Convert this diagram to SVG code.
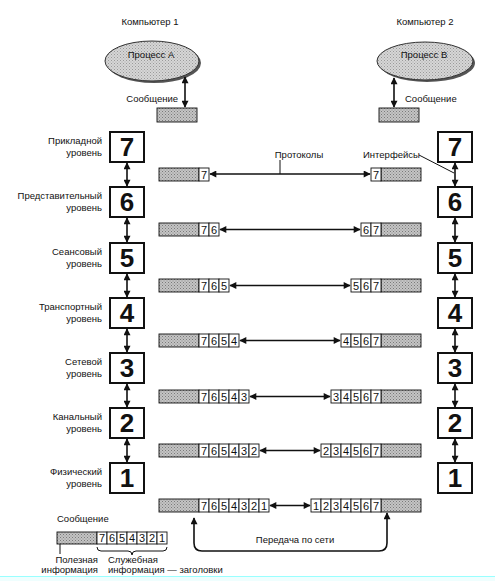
<svg xmlns="http://www.w3.org/2000/svg" width="495" height="581" viewBox="0 0 495 581">
<style>
text{font-family:"Liberation Sans",Arial,sans-serif;fill:#111}
.lbl{font-size:9.5px}
.lr{font-size:9.5px;text-anchor:end}
.num{font-size:26px;font-weight:bold;text-anchor:middle}
.cd{font-size:11px;text-anchor:middle}
.box{fill:#fff;stroke:#111;stroke-width:2}
.cell{fill:#fff;stroke:#111;stroke-width:0.9}
.gray{fill:url(#ht);stroke:#111;stroke-width:0.9}
.ar{stroke:#111;stroke-width:1.6;fill:none;marker-start:url(#ah);marker-end:url(#ah)}
.ln{stroke:#111;stroke-width:1;fill:none}
</style>
<defs>
<pattern id="ht" width="3" height="3" patternUnits="userSpaceOnUse">
<rect width="3" height="3" fill="#c4c4c4"/>
<rect x="0" y="0" width="1" height="1" fill="#7a7a7a"/>
<rect x="1.5" y="1.5" width="1" height="1" fill="#8a8a8a"/>
</pattern>
<pattern id="ht2" width="3" height="3" patternUnits="userSpaceOnUse">
<rect width="3" height="3" fill="#d6d6d6"/>
<rect x="0" y="0" width="1" height="1" fill="#9a9a9a"/>
<rect x="1.5" y="1.5" width="1" height="1" fill="#a8a8a8"/>
</pattern>
<marker id="ah" viewBox="0 0 10 10" refX="9" refY="5" markerWidth="8" markerHeight="7" markerUnits="userSpaceOnUse" orient="auto-start-reverse">
<path d="M0,0 L10,5 L0,10 z" fill="#111"/>
</marker>
</defs>

<g id="computer1">
<text class="lbl" x="150" y="25" text-anchor="middle">Компьютер 1</text>
<ellipse cx="154" cy="63" rx="47" ry="20" fill="#555"/>
<ellipse cx="152" cy="61" rx="47" ry="20" fill="url(#ht2)" stroke="#333" stroke-width="1"/>
<text class="lbl" x="151" y="58" text-anchor="middle">Процесс A</text>
<text class="lr" x="178" y="102">Сообщение</text>
<rect class="gray" x="157" y="108" width="40" height="14"/>
</g>

<g id="computer2">
<text class="lbl" x="425" y="25" text-anchor="middle">Компьютер 2</text>
<ellipse cx="427" cy="63" rx="48" ry="19" fill="#555"/>
<ellipse cx="425" cy="61" rx="48" ry="19" fill="url(#ht2)" stroke="#333" stroke-width="1"/>
<text class="lbl" x="424" y="58" text-anchor="middle">Процесс B</text>
<text class="lbl" x="405" y="102">Сообщение</text>
<rect class="gray" x="379" y="108" width="40" height="14"/>
</g>

<g id="left-layers">
<g id="L7"><text class="lr" x="102" y="144">Прикладной</text><text class="lr" x="102" y="156">уровень</text><rect class="box" x="110" y="132" width="34" height="30"/><text class="num" x="127" y="156">7</text></g>
<g id="L6"><text class="lr" x="102" y="199">Представительный</text><text class="lr" x="102" y="211">уровень</text><rect class="box" x="110" y="187" width="34" height="30"/><text class="num" x="127" y="211">6</text></g>
<g id="L5"><text class="lr" x="102" y="255">Сеансовый</text><text class="lr" x="102" y="267">уровень</text><rect class="box" x="110" y="243" width="34" height="30"/><text class="num" x="127" y="267">5</text></g>
<g id="L4"><text class="lr" x="102" y="310">Транспортный</text><text class="lr" x="102" y="322">уровень</text><rect class="box" x="110" y="298" width="34" height="30"/><text class="num" x="127" y="322">4</text></g>
<g id="L3"><text class="lr" x="102" y="365">Сетевой</text><text class="lr" x="102" y="377">уровень</text><rect class="box" x="110" y="353" width="34" height="30"/><text class="num" x="127" y="377">3</text></g>
<g id="L2"><text class="lr" x="102" y="420">Канальный</text><text class="lr" x="102" y="432">уровень</text><rect class="box" x="110" y="408" width="34" height="30"/><text class="num" x="127" y="432">2</text></g>
<g id="L1"><text class="lr" x="102" y="475">Физический</text><text class="lr" x="102" y="487">уровень</text><rect class="box" x="110" y="463" width="34" height="30"/><text class="num" x="127" y="487">1</text></g>
</g>

<g id="right-layers">
<g id="R7"><rect class="box" x="438" y="132" width="34" height="30"/><text class="num" x="455" y="156">7</text></g>
<g id="R6"><rect class="box" x="438" y="187" width="34" height="30"/><text class="num" x="455" y="211">6</text></g>
<g id="R5"><rect class="box" x="438" y="243" width="34" height="30"/><text class="num" x="455" y="267">5</text></g>
<g id="R4"><rect class="box" x="438" y="298" width="34" height="30"/><text class="num" x="455" y="322">4</text></g>
<g id="R3"><rect class="box" x="438" y="353" width="34" height="30"/><text class="num" x="455" y="377">3</text></g>
<g id="R2"><rect class="box" x="438" y="408" width="34" height="30"/><text class="num" x="455" y="432">2</text></g>
<g id="R1"><rect class="box" x="438" y="463" width="34" height="30"/><text class="num" x="455" y="487">1</text></g>
</g>

<g id="left-messages">
<g id="LM1"><rect class="gray" x="159" y="168" width="40" height="13"/><rect class="cell" x="199" y="168" width="10" height="13"/><text class="cd" x="204" y="179">7</text></g>
<g id="LM2"><rect class="gray" x="159" y="223" width="40" height="13"/>
<rect class="cell" x="199" y="223" width="10" height="13"/><rect class="cell" x="209" y="223" width="10" height="13"/>
<text class="cd" x="204" y="234">7</text><text class="cd" x="214" y="234">6</text></g>
<g id="LM3"><rect class="gray" x="159" y="279" width="40" height="13"/>
<rect class="cell" x="199" y="279" width="10" height="13"/><rect class="cell" x="209" y="279" width="10" height="13"/><rect class="cell" x="219" y="279" width="10" height="13"/>
<text class="cd" x="204" y="290">7</text><text class="cd" x="214" y="290">6</text><text class="cd" x="224" y="290">5</text></g>
<g id="LM4"><rect class="gray" x="159" y="334" width="40" height="13"/>
<rect class="cell" x="199" y="334" width="10" height="13"/><rect class="cell" x="209" y="334" width="10" height="13"/><rect class="cell" x="219" y="334" width="10" height="13"/><rect class="cell" x="229" y="334" width="10" height="13"/>
<text class="cd" x="204" y="345">7</text><text class="cd" x="214" y="345">6</text><text class="cd" x="224" y="345">5</text><text class="cd" x="234" y="345">4</text></g>
<g id="LM5"><rect class="gray" x="159" y="390" width="40" height="13"/>
<rect class="cell" x="199" y="390" width="10" height="13"/><rect class="cell" x="209" y="390" width="10" height="13"/><rect class="cell" x="219" y="390" width="10" height="13"/><rect class="cell" x="229" y="390" width="10" height="13"/><rect class="cell" x="239" y="390" width="10" height="13"/>
<text class="cd" x="204" y="401">7</text><text class="cd" x="214" y="401">6</text><text class="cd" x="224" y="401">5</text><text class="cd" x="234" y="401">4</text><text class="cd" x="244" y="401">3</text></g>
<g id="LM6"><rect class="gray" x="159" y="444" width="40" height="13"/>
<rect class="cell" x="199" y="444" width="10" height="13"/><rect class="cell" x="209" y="444" width="10" height="13"/><rect class="cell" x="219" y="444" width="10" height="13"/><rect class="cell" x="229" y="444" width="10" height="13"/><rect class="cell" x="239" y="444" width="10" height="13"/><rect class="cell" x="249" y="444" width="10" height="13"/>
<text class="cd" x="204" y="455">7</text><text class="cd" x="214" y="455">6</text><text class="cd" x="224" y="455">5</text><text class="cd" x="234" y="455">4</text><text class="cd" x="244" y="455">3</text><text class="cd" x="254" y="455">2</text></g>
<g id="LM7"><rect class="gray" x="159" y="499" width="40" height="13"/>
<rect class="cell" x="199" y="499" width="10" height="13"/><rect class="cell" x="209" y="499" width="10" height="13"/><rect class="cell" x="219" y="499" width="10" height="13"/><rect class="cell" x="229" y="499" width="10" height="13"/><rect class="cell" x="239" y="499" width="10" height="13"/><rect class="cell" x="249" y="499" width="10" height="13"/><rect class="cell" x="259" y="499" width="10" height="13"/>
<text class="cd" x="204" y="510">7</text><text class="cd" x="214" y="510">6</text><text class="cd" x="224" y="510">5</text><text class="cd" x="234" y="510">4</text><text class="cd" x="244" y="510">3</text><text class="cd" x="254" y="510">2</text><text class="cd" x="264" y="510">1</text></g>
</g>

<g id="right-messages">
<g id="RM1"><rect class="gray" x="381" y="168" width="40" height="13"/><rect class="cell" x="371" y="168" width="10" height="13"/><text class="cd" x="376" y="179">7</text></g>
<g id="RM2"><rect class="gray" x="381" y="223" width="40" height="13"/>
<rect class="cell" x="361" y="223" width="10" height="13"/><rect class="cell" x="371" y="223" width="10" height="13"/>
<text class="cd" x="366" y="234">6</text><text class="cd" x="376" y="234">7</text></g>
<g id="RM3"><rect class="gray" x="381" y="279" width="40" height="13"/>
<rect class="cell" x="351" y="279" width="10" height="13"/><rect class="cell" x="361" y="279" width="10" height="13"/><rect class="cell" x="371" y="279" width="10" height="13"/>
<text class="cd" x="356" y="290">5</text><text class="cd" x="366" y="290">6</text><text class="cd" x="376" y="290">7</text></g>
<g id="RM4"><rect class="gray" x="381" y="334" width="40" height="13"/>
<rect class="cell" x="341" y="334" width="10" height="13"/><rect class="cell" x="351" y="334" width="10" height="13"/><rect class="cell" x="361" y="334" width="10" height="13"/><rect class="cell" x="371" y="334" width="10" height="13"/>
<text class="cd" x="346" y="345">4</text><text class="cd" x="356" y="345">5</text><text class="cd" x="366" y="345">6</text><text class="cd" x="376" y="345">7</text></g>
<g id="RM5"><rect class="gray" x="381" y="390" width="40" height="13"/>
<rect class="cell" x="331" y="390" width="10" height="13"/><rect class="cell" x="341" y="390" width="10" height="13"/><rect class="cell" x="351" y="390" width="10" height="13"/><rect class="cell" x="361" y="390" width="10" height="13"/><rect class="cell" x="371" y="390" width="10" height="13"/>
<text class="cd" x="336" y="401">3</text><text class="cd" x="346" y="401">4</text><text class="cd" x="356" y="401">5</text><text class="cd" x="366" y="401">6</text><text class="cd" x="376" y="401">7</text></g>
<g id="RM6"><rect class="gray" x="381" y="444" width="40" height="13"/>
<rect class="cell" x="321" y="444" width="10" height="13"/><rect class="cell" x="331" y="444" width="10" height="13"/><rect class="cell" x="341" y="444" width="10" height="13"/><rect class="cell" x="351" y="444" width="10" height="13"/><rect class="cell" x="361" y="444" width="10" height="13"/><rect class="cell" x="371" y="444" width="10" height="13"/>
<text class="cd" x="326" y="455">2</text><text class="cd" x="336" y="455">3</text><text class="cd" x="346" y="455">4</text><text class="cd" x="356" y="455">5</text><text class="cd" x="366" y="455">6</text><text class="cd" x="376" y="455">7</text></g>
<g id="RM7"><rect class="gray" x="381" y="499" width="40" height="13"/>
<rect class="cell" x="311" y="499" width="10" height="13"/><rect class="cell" x="321" y="499" width="10" height="13"/><rect class="cell" x="331" y="499" width="10" height="13"/><rect class="cell" x="341" y="499" width="10" height="13"/><rect class="cell" x="351" y="499" width="10" height="13"/><rect class="cell" x="361" y="499" width="10" height="13"/><rect class="cell" x="371" y="499" width="10" height="13"/>
<text class="cd" x="316" y="510">1</text><text class="cd" x="326" y="510">2</text><text class="cd" x="336" y="510">3</text><text class="cd" x="346" y="510">4</text><text class="cd" x="356" y="510">5</text><text class="cd" x="366" y="510">6</text><text class="cd" x="376" y="510">7</text></g>
</g>

<g id="labels">
<text class="lbl" x="299" y="158" text-anchor="middle">Протоколы</text>
<text class="lbl" x="363" y="158">Интерфейсы</text>
<text class="lbl" x="295" y="543" text-anchor="middle">Передача по сети</text>
</g>

<g id="legend">
<text class="lbl" x="57" y="522">Сообщение</text>
<rect class="gray" x="57" y="532" width="40" height="12"/>
<rect class="cell" x="97" y="532" width="10" height="12"/><rect class="cell" x="107" y="532" width="10" height="12"/><rect class="cell" x="117" y="532" width="10" height="12"/><rect class="cell" x="127" y="532" width="10" height="12"/><rect class="cell" x="137" y="532" width="10" height="12"/><rect class="cell" x="147" y="532" width="10" height="12"/><rect class="cell" x="157" y="532" width="10" height="12"/>
<text class="cd" x="102" y="542">7</text><text class="cd" x="112" y="542">6</text><text class="cd" x="122" y="542">5</text><text class="cd" x="132" y="542">4</text><text class="cd" x="142" y="542">3</text><text class="cd" x="152" y="542">2</text><text class="cd" x="162" y="542">1</text>
<line class="ln" x1="60" y1="544" x2="60" y2="554"/>
<path class="ln" d="M97,547 Q97,551 101,551 L128,551 Q132,551 132,555 Q132,551 136,551 L163,551 Q167,551 167,547"/>
<text class="lr" x="98" y="563">Полезная</text>
<text class="lr" x="98" y="573">информация</text>
<text class="lbl" x="108" y="563">Служебная</text>
<text class="lbl" x="108" y="573">информация — заголовки</text>
</g>

<g id="connectors">
<line class="ar" x1="185" y1="77" x2="185" y2="107"/>
<line class="ar" x1="394" y1="78" x2="394" y2="107"/>
<line class="ar" x1="127" y1="163" x2="127" y2="186"/>
<line class="ar" x1="127" y1="218" x2="127" y2="242"/>
<line class="ar" x1="127" y1="274" x2="127" y2="297"/>
<line class="ar" x1="127" y1="329" x2="127" y2="352"/>
<line class="ar" x1="127" y1="384" x2="127" y2="407"/>
<line class="ar" x1="127" y1="439" x2="127" y2="462"/>
<line class="ar" x1="455" y1="163" x2="455" y2="186"/>
<line class="ar" x1="455" y1="218" x2="455" y2="242"/>
<line class="ar" x1="455" y1="274" x2="455" y2="297"/>
<line class="ar" x1="455" y1="329" x2="455" y2="352"/>
<line class="ar" x1="455" y1="384" x2="455" y2="407"/>
<line class="ar" x1="455" y1="439" x2="455" y2="462"/>
<line class="ar" x1="210" y1="174" x2="370" y2="174"/>
<line class="ar" x1="220" y1="229.5" x2="360" y2="229.5"/>
<line class="ar" x1="230" y1="285.5" x2="350" y2="285.5"/>
<line class="ar" x1="240" y1="340.5" x2="340" y2="340.5"/>
<line class="ar" x1="250" y1="396.5" x2="330" y2="396.5"/>
<line class="ar" x1="260" y1="450.5" x2="320" y2="450.5"/>
<line class="ar" x1="270" y1="505.5" x2="310" y2="505.5"/>
<path class="ar" d="M194,518 L194,543 Q194,551 202,551 L379,551 Q387,551 387,543 L387,513"/>
<line class="ln" x1="280" y1="160" x2="280" y2="174"/>
<line class="ln" x1="419" y1="155" x2="454" y2="173"/>
</g>

<g id="bottom-strip">
<rect x="0" y="576" width="495" height="5" fill="#effefe"/>
<line x1="0" y1="576.5" x2="495" y2="576.5" stroke="#9ff" stroke-width="1"/>
</g>
</svg>
